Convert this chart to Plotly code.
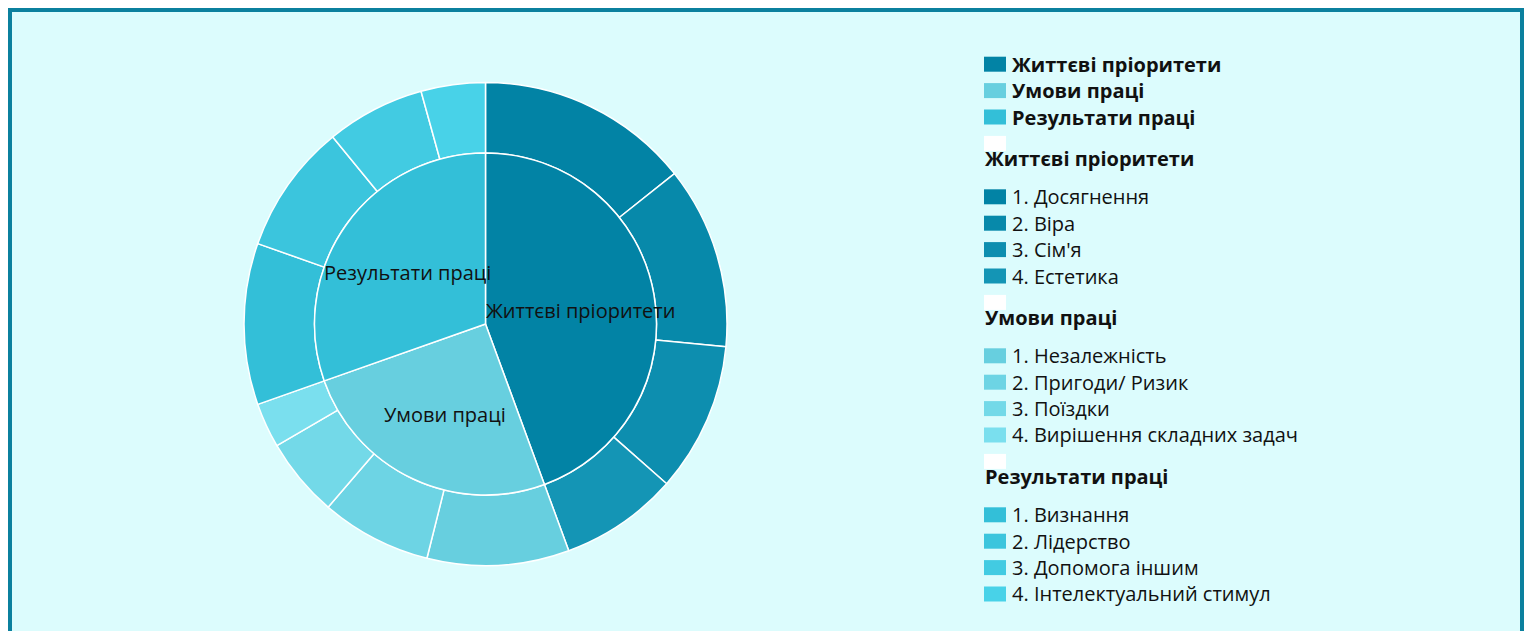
import math
import plotly.graph_objects as go

# ---------------- data ----------------
group_names = ['Життєві пріоритети', 'Умови праці', 'Результати праці']
group_colors = ['#0283a5', '#67cfdf', '#33bfd8']

life_labels = ['1. Досягнення', '2. Віра', "3. Сім'я", '4. Естетика']
life_values = [14.3, 12.2, 10.0, 7.9]
life_colors = ['#0283a5', '#0789aa', '#0d8eaf', '#1495b5']

cond_labels = ['1. Незалежність', '2. Пригоди/ Ризик', '3. Поїздки', '4. Вирішення складних задач']
cond_values = [9.5, 7.4, 5.3, 3.0]
cond_colors = ['#67cfdf', '#6dd4e4', '#73d9e8', '#7adfee']

res_labels = ['1. Визнання', '2. Лідерство', '3. Допомога іншим', '4. Інтелектуальний стимул']
res_values = [10.8, 8.7, 6.6, 4.3]
res_colors = ['#33bfd8', '#3bc5dd', '#42cbe2', '#48d2e8']

group_labels = [life_labels, cond_labels, res_labels]
group_values = [life_values, cond_values, res_values]
group_item_colors = [life_colors, cond_colors, res_colors]

# ---------------- layout constants ----------------
W, H = 1516, 623
BG = '#dcfcfd'
BORDER = '#0b809e'
TXT = '#111111'
FONT = 'Open Sans'
FS = 20

def px(x):
    return x / W

def py(y):
    return 1 - y / H

CX, CY = 477.5, 316.0
R_OUT, R_IN = 241.5, 171.0

inner_values = [sum(v) for v in group_values]
outer_labels = life_labels + cond_labels + res_labels
outer_values = life_values + cond_values + res_values
outer_colors = life_colors + cond_colors + res_colors

fig = go.Figure()

fig.add_trace(go.Pie(
    labels=outer_labels, values=outer_values,
    marker=dict(colors=outer_colors, line=dict(color='white', width=1.5)),
    hole=R_IN / R_OUT, sort=False, direction='clockwise', rotation=0,
    textinfo='none', showlegend=False,
    domain=dict(x=[px(CX - R_OUT), px(CX + R_OUT)], y=[py(CY + R_OUT), py(CY - R_OUT)]),
))
fig.add_trace(go.Pie(
    labels=group_names, values=inner_values,
    marker=dict(colors=group_colors, line=dict(color='white', width=1.5)),
    sort=False, direction='clockwise', rotation=0,
    textinfo='none', showlegend=False,
    domain=dict(x=[px(CX - R_IN), px(CX + R_IN)], y=[py(CY + R_IN), py(CY - R_IN)]),
))

annotations = []
shapes = []

# background frame
shapes.append(dict(type='rect', xref='paper', yref='paper', layer='below',
                   x0=px(4), x1=px(W - 4), y0=-0.2, y1=py(4),
                   fillcolor=BG, line=dict(width=0)))

# labels of inner ring, positioned at mid-angle of each slice
total = sum(inner_values)
cum = 0.0
for name, v in zip(group_names, inner_values):
    mid = (cum + v / 2) / total * 2 * math.pi
    cum += v
    tx = CX + 96 * math.sin(mid)
    ty = CY - 96 * math.cos(mid) + 3.5
    annotations.append(dict(text=name, x=px(tx), y=py(ty), xref='paper', yref='paper',
                            showarrow=False, xanchor='center', yanchor='middle',
                            font=dict(family=FONT, size=FS, color=TXT)))

# ---------------- legend ----------------
ROW = 26.4
SW_X0, SW_X1 = 976, 998
TEXT_X = 1002
TITLE_X = 975

def swatch(cy, color):
    shapes.append(dict(type='rect', xref='paper', yref='paper',
                       x0=px(SW_X0), x1=px(SW_X1), y0=py(cy + 7.5), y1=py(cy - 7.5),
                       fillcolor=color, line=dict(width=0)))

def label(x, cy, text):
    annotations.append(dict(text=text, x=px(x), y=py(cy), xref='paper', yref='paper',
                            showarrow=False, xanchor='left', yanchor='middle',
                            font=dict(family=FONT, size=FS, color=TXT)))

y = 56.2
for name, col in zip(group_names, group_colors):
    swatch(y, col)
    label(TEXT_X, y, '<b>' + name + '</b>')
    y += ROW
y -= ROW
for name, labs, cols in zip(group_names, group_labels, group_item_colors):
    y += ROW
    swatch(y, 'white')
    y += 14.7
    label(TITLE_X, y, '<b>' + name + '</b>')
    y += 38.7
    for i, (lab, col) in enumerate(zip(labs, cols)):
        if i:
            y += ROW
        swatch(y, col)
        label(TEXT_X, y, lab)

fig.update_layout(
    width=W, height=H,
    margin=dict(l=0, r=0, t=0, b=0),
    paper_bgcolor=BORDER,
    showlegend=False,
    font=dict(family=FONT, size=FS, color=TXT),
    shapes=shapes,
    annotations=annotations,
)

fig.write_html('out.html')
